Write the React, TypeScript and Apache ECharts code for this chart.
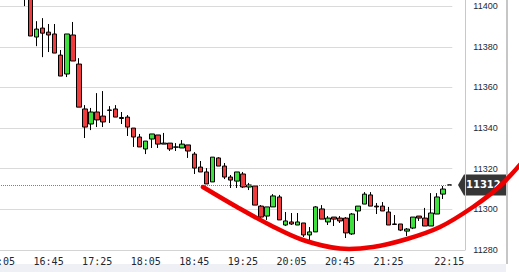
import React, { useEffect, useRef } from "react";
import * as echarts from "echarts";

const times = [
  "16:05", "16:10", "16:15", "16:20", "16:25", "16:30", "16:35", "16:40", "16:45", "16:50", "16:55",
  "17:00", "17:05", "17:10", "17:15", "17:20", "17:25", "17:30", "17:35", "17:40", "17:45", "17:50", "17:55",
  "18:00", "18:05", "18:10", "18:15", "18:20", "18:25", "18:30", "18:35", "18:40", "18:45", "18:50", "18:55",
  "19:00", "19:05", "19:10", "19:15", "19:20", "19:25", "19:30", "19:35", "19:40", "19:45", "19:50", "19:55",
  "20:00", "20:05", "20:10", "20:15", "20:20", "20:25", "20:30", "20:35", "20:40", "20:45", "20:50", "20:55",
  "21:00", "21:05", "21:10", "21:15", "21:20", "21:25", "21:30", "21:35", "21:40", "21:45", "21:50", "21:55",
  "22:00", "22:05", "22:10", "22:15",
];
// number of leading time slots without bars (16:05 - 16:20)
const emptyBefore = 4;

const opens = [
  11412, 11405, 11384.8, 11389.2, 11387.2, 11386.3, 11375.9, 11366.6, 11385.8, 11371.5,
  11349.4, 11342.0, 11347.9, 11345.9, 11348.9, 11349.4, 11345.2, 11345.4, 11340.0, 11335.6,
  11329.7, 11334.6, 11336.6, 11332.1, 11332.6, 11330.7, 11330.2, 11331.7, 11327.2, 11320.8,
  11318.4, 11313.5, 11325.3, 11321.3, 11315.9, 11313.9, 11317.4, 11311.0, 11311.5, 11301.6,
  11296.7, 11301.2, 11306.1, 11292.3, 11293.8, 11292.3, 11293.3, 11287.4, 11288.9, 11300.2,
  11293.8, 11296.2, 11295.7, 11295.7, 11287.9, 11299.2, 11302.6, 11307.1, 11301.6, 11301.6,
  11298.7, 11292.8, 11292.8, 11289.3, 11290.8, 11296.7, 11295.7, 11291.8, 11297.7, 11307.5,
  11312,
];
const closes = [
  11404, 11385.3, 11388.7, 11386.7, 11385.8, 11376.9, 11365.6, 11386.3, 11373.0, 11350.3,
  11340.5, 11347.9, 11344.0, 11343.0, 11348.7, 11345.4, 11344.7, 11340.5, 11335.6, 11330.7,
  11333.6, 11337.1, 11332.1, 11332.6, 11329.7, 11330.6, 11332.1, 11328.7, 11320.3, 11318.4,
  11312.5, 11325.7, 11321.3, 11315.9, 11314.4, 11318.4, 11311.0, 11312.0, 11302.1, 11296.2,
  11301.2, 11306.6, 11294.8, 11294.3, 11292.8, 11293.8, 11287.4, 11288.9, 11301.2, 11295.2,
  11295.7, 11295.2, 11294.3, 11288.4, 11297.7, 11301.6, 11307.5, 11301.6, 11301.2, 11299.2,
  11292.3, 11292.6, 11289.8, 11290.3, 11296.2, 11295.7, 11291.8, 11298.2, 11306.1, 11310.0,
  11312,
];
const lows = [
  11400, 11385.3, 11380.3, 11374.9, 11377.4, 11376.9, 11365.6, 11365.1, 11373.0, 11350.3,
  11335.1, 11339.0, 11340.5, 11340.5, 11342.5, 11345.4, 11342.0, 11336.1, 11330.7, 11330.7,
  11327.2, 11330.2, 11330.2, 11332.1, 11328.7, 11328.7, 11330.2, 11325.3, 11317.4, 11318.4,
  11312.5, 11313.5, 11321.3, 11314.9, 11310.5, 11310.5, 11310.5, 11309.5, 11302.1, 11294.8,
  11294.8, 11301.2, 11294.8, 11291.8, 11292.3, 11292.3, 11286.4, 11284.9, 11288.9, 11295.2,
  11292.3, 11291.8, 11293.3, 11285.9, 11287.4, 11294.3, 11302.6, 11301.6, 11297.7, 11299.2,
  11292.3, 11292.3, 11289.3, 11286.9, 11290.3, 11294.3, 11291.8, 11291.8, 11297.7, 11305.1,
  11312,
];
const highs = [
  11414, 11408, 11392.6, 11394.1, 11391.2, 11391.2, 11378.4, 11386.3, 11392.2, 11374.4,
  11351.3, 11349.9, 11357.2, 11358.2, 11350.8, 11351.3, 11347.9, 11346.4, 11340.0, 11337.1,
  11333.6, 11337.1, 11336.6, 11337.6, 11332.6, 11332.6, 11334.1, 11331.7, 11328.2, 11323.8,
  11320.3, 11325.7, 11325.7, 11322.8, 11316.9, 11318.4, 11318.4, 11313.0, 11311.5, 11302.1,
  11301.2, 11307.5, 11307.1, 11298.7, 11298.2, 11298.2, 11293.3, 11291.3, 11301.6, 11302.1,
  11296.7, 11296.2, 11296.7, 11296.2, 11298.2, 11301.6, 11308.5, 11308.5, 11303.1, 11303.6,
  11301.2, 11297.2, 11292.8, 11290.8, 11296.2, 11296.7, 11300.7, 11308.0, 11308.0, 11311.5,
  11312,
];
const lastPrice = 11312;
const yTicks = { min: 11280, max: 11404, step: 20 };

export default function App() {
  const ref = useRef<HTMLDivElement>(null);

  useEffect(() => {
    if (!ref.current) return;
    const chart = echarts.init(ref.current, null, { renderer: "svg" });

    const candles: any[] = [];
    for (let i = 0; i < emptyBefore; i++) candles.push(["-", "-", "-", "-"]);
    for (let i = 0; i < opens.length; i++) {
      candles.push([opens[i], closes[i], lows[i], highs[i]]);
    }
    const lastIdx = times.length - 1;

    chart.setOption({
      animation: false,
      backgroundColor: "#ffffff",
      grid: {
        left: -3,
        right: 66.7,
        top: -2,
        bottom: 22,
        containLabel: false,
        outerBoundsMode: "none",
      },
      xAxis: {
        type: "category",
        data: times,
        boundaryGap: true,
        axisLine: { show: true, lineStyle: { color: "#d4d4d4" } },
        axisTick: { show: false },
        splitLine: { show: false },
        axisLabel: {
          interval: (i: number) => (i % 8 === 0 && i <= 64) || i === lastIdx,
          fontFamily: "DejaVu Sans Mono",
          fontSize: 10,
          color: "#1c2733",
          margin: 6,
        },
      },
      yAxis: {
        type: "value",
        position: "right",
        offset: 13,
        min: yTicks.min,
        max: yTicks.max,
        interval: yTicks.step,
        axisLine: { show: true, lineStyle: { color: "#c8c8c8" } },
        axisTick: { show: false },
        axisLabel: {
          fontFamily: "Liberation Sans",
          fontSize: 9,
          color: "#1c2733",
          margin: 8,
          showMaxLabel: false,
          formatter: (v: number) => String(v),
        },
        splitLine: { show: true, lineStyle: { color: "#dadada", width: 1 } },
      },
      series: [
        {
          type: "candlestick",
          data: candles,
          barWidth: 5,
          itemStyle: {
            color: "#3ee03e",
            color0: "#f03c3c",
            borderColor: "#000000",
            borderColor0: "#000000",
            borderWidth: 1,
          },
          markLine: {
            silent: true,
            symbol: ["none", "none"],
            label: { show: false },
            lineStyle: { type: "dotted", color: "#808080", width: 1 },
            data: [{ yAxis: lastPrice }],
          },
        },
      ],
    });

    const py = chart.convertToPixel({ yAxisIndex: 0 }, lastPrice) as number;

    chart.setOption({
      graphic: [
        {
          type: "rect",
          shape: { x: 0, y: 264, width: 506, height: 8 },
          style: { fill: "#eef0f5" },
          silent: true,
        },
        {
          type: "line",
          shape: { x1: 0, y1: 250.5, x2: 465, y2: 250.5 },
          style: { stroke: "#d4d4d4", lineWidth: 1 },
          silent: true,
        },
        {
          type: "rect",
          shape: { x: 506, y: 0, width: 2, height: 264 },
          style: { fill: "#c6c6c6" },
          silent: true,
        },
        {
          type: "polygon",
          shape: {
            points: [
              [458, py],
              [464, py - 10.5],
              [506, py - 10.5],
              [506, py + 10.5],
              [464, py + 10.5],
            ],
          },
          style: { fill: "#363636" },
          silent: true,
        },
        {
          type: "text",
          x: 466,
          y: py,
          style: {
            text: String(lastPrice),
            fill: "#ffffff",
            font: "bold 10px 'DejaVu Sans'",
            verticalAlign: "middle",
          },
          silent: true,
        },
        {
          type: "polyline",
          shape: {
            points: [
              [203, 187], [237, 207], [270, 225], [303, 240], [340, 248.5],
              [373, 247], [407, 239], [440, 227], [473, 207], [500, 186], [524, 160],
            ],
            smooth: 0.35,
          },
          style: { stroke: "#ee0000", lineWidth: 4.5, lineCap: "round", fill: null },
          silent: true,
          z: 100,
        },
      ],
    });

    return () => chart.dispose();
  }, []);

  return (
    <div
      ref={ref}
      style={{ position: "fixed", left: 0, top: 0, width: 519, height: 272, background: "#fff" }}
    />
  );
}
